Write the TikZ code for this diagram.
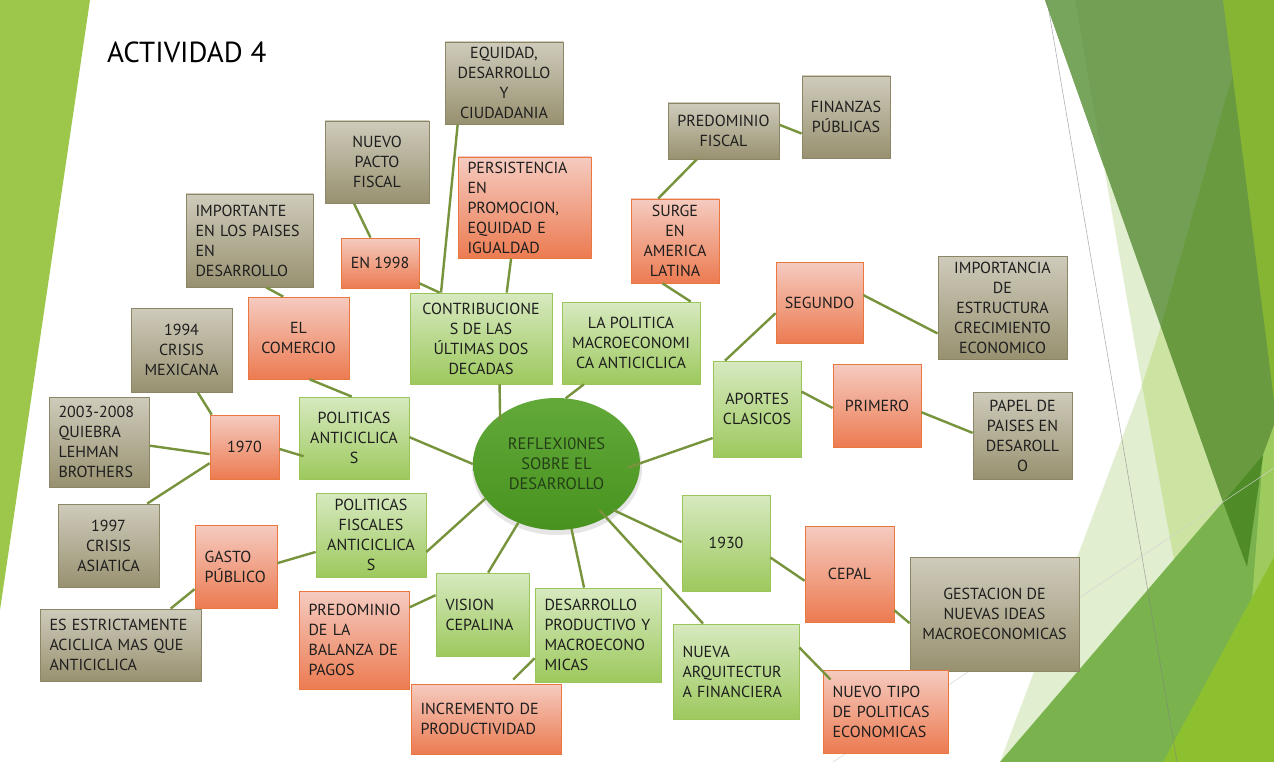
\documentclass[tikz,border=0pt]{standalone}
\usepackage{fontspec}
\setmainfont{PT Sans}
\usetikzlibrary{calc,shapes.geometric}
\definecolor{tanT}{HTML}{CFCBBB}
\definecolor{tanBot}{HTML}{989170}
\definecolor{tanB}{HTML}{8C8566}
\definecolor{salT}{HTML}{F5CBC0}
\definecolor{salBot}{HTML}{EC7B51}
\definecolor{salB}{HTML}{E9773F}
\definecolor{grnT}{HTML}{D7E9C0}
\definecolor{grnBot}{HTML}{9DC95D}
\definecolor{grnB}{HTML}{9BC45B}
\definecolor{lineC}{HTML}{77933C}
\definecolor{ellT}{HTML}{62A93A}
\definecolor{ellBot}{HTML}{48931F}
\definecolor{ellTxt}{HTML}{243F17}
\definecolor{leftG}{HTML}{9DC74B}
\definecolor{paleG}{HTML}{E2EED0}
\definecolor{lightG}{HTML}{CDE3A1}
\definecolor{medG}{HTML}{729F53}
\definecolor{medLG}{HTML}{78A55C}
\definecolor{darkG}{HTML}{6A9A40}
\definecolor{limeT}{HTML}{86B534}
\definecolor{botG}{HTML}{7AB24E}
\definecolor{wedgeG}{HTML}{9ECB5E}
\definecolor{darkT}{HTML}{4F8C27}
\definecolor{limeB}{HTML}{8DC02F}
\definecolor{txt}{HTML}{1E1E1E}
\newcommand\bxc[7]{\node[#2,minimum width=#5pt,minimum height=#6pt,align=center] (#1) at (#3,#4) {#7};}
\newcommand\bxl[8]{\node[#2,minimum width=#5pt,minimum height=#6pt,align=left,text width=#7pt] (#1) at (#3,#4) {#8};}
\begin{document}
\begin{tikzpicture}[x=1pt,y=-1pt,
  box/.style={draw, line width=0.8pt, inner sep=0pt, font=\fontsize{16}{20}\selectfont, text=txt},
  tanbox/.style={box, draw=tanB, top color=tanT, bottom color=tanBot},
  salbox/.style={box, draw=salB, top color=salT, bottom color=salBot},
  grnbox/.style={box, draw=grnB, top color=grnT, bottom color=grnBot},
  conn/.style={draw=lineC, line width=2.4pt},
]
\useasboundingbox (0,0) rectangle (1274,762);
\fill[white] (0,0) rectangle (1274,762);
% background shapes
\fill[leftG] (0,0) -- (90,0) -- (0,610) -- cycle;
\fill[paleG] (1104,167) -- (1142,385) -- (1000,762) -- (1274,762) -- (1274,167) -- cycle;
\fill[lightG] (1161,326) -- (1142,385) -- (1185,620) -- (1223,502) -- cycle;
\fill[medG] (1045,0) -- (1274,0) -- (1274,470) -- (1263,455) -- (1223,502) -- cycle;
\fill[medLG] (1045,0) -- (1075,0) -- (1104,167) -- cycle;
\fill[darkG] (1161,326) -- (1254,0) -- (1274,0) -- (1274,470) -- (1263,455) -- (1223,502) -- cycle;
\fill[limeT] (1223,0) -- (1274,0) -- (1274,400) -- cycle;
\fill[botG] (1000,762) -- (1223,502) -- (1263,455) -- (1274,445) -- (1274,762) -- cycle;
\fill[wedgeG] (1263,455) -- (1274,425) -- (1274,610) -- (1252,600) -- cycle;
\fill[darkT] (1223,502) -- (1263,455) -- (1247,567) -- cycle;
\fill[limeB] (1163,762) -- (1274,557) -- (1274,762) -- cycle;
\draw[gray, line width=0.6pt, opacity=0.6] (1047,0) -- (1177,762);
\draw[black!18, line width=0.6pt, opacity=0.8] (833,762) -- (1274,468);
% title
\node[anchor=base west, inner sep=0pt, font=\fontsize{29}{32}\selectfont] (title) at (107,63) {ACTIVIDAD 4};
% tan boxes
\bxc{equidad}{tanbox}{504}{83}{118}{82}{EQUIDAD,\\DESARROLLO\\Y\\CIUDADANIA}
\bxc{pacto}{tanbox}{377}{162}{104}{82}{NUEVO\\PACTO\\FISCAL}
\bxl{importante}{tanbox}{249.5}{240.5}{127}{93}{108}{IMPORTANTE\\EN~LOS~PAISES\\EN\\DESARROLLO}
\bxc{predfis}{tanbox}{723.5}{131}{111}{56}{PREDOMINIO\\FISCAL}
\bxc{finanzas}{tanbox}{846}{117}{88}{82}{FINANZAS\\PÚBLICAS}
\bxc{importancia}{tanbox}{1002.5}{307.5}{129}{103}{IMPORTANCIA\\DE\\ESTRUCTURA\\CRECIMIENTO\\ECONOMICO}
\bxc{papel}{tanbox}{1022.5}{435.5}{99}{87}{PAPEL DE\\PAISES EN\\DESAROLL\\O}
\bxc{n1994}{tanbox}{181.5}{350}{101}{84}{1994\\CRISIS\\MEXICANA}
\bxl{n2003}{tanbox}{99}{442}{100}{90}{81}{2003-2008\\QUIEBRA\\LEHMAN\\BROTHERS}
\bxc{n1997}{tanbox}{108.5}{545.5}{101}{83}{1997\\CRISIS\\ASIATICA}
\bxl{estrict}{tanbox}{120.5}{645}{161}{72}{142}{ES~ESTRICTAMENTE\\ACICLICA~MAS~QUE\\ANTICICLICA}
\bxc{gest}{tanbox}{994.5}{614}{169}{114}{GESTACION DE\\NUEVAS IDEAS\\MACROECONOMICAS}
% salmon boxes
\bxc{en98}{salbox}{380}{263}{78}{50}{EN 1998}
\bxl{persist}{salbox}{524.5}{207.5}{133}{101}{114}{PERSISTENCIA\\EN\\PROMOCION,\\EQUIDAD~E\\IGUALDAD}
\bxc{surge}{salbox}{675}{241}{88}{84}{SURGE\\EN\\AMERICA\\LATINA}
\bxc{segundo}{salbox}{819.5}{302.5}{87}{81}{SEGUNDO}
\bxc{comercio}{salbox}{298.5}{338}{101}{82}{EL\\COMERCIO}
\bxc{n1970}{salbox}{244.5}{447}{69}{64}{1970}
\bxl{gasto}{salbox}{236}{566.5}{82}{83}{63}{GASTO\\PÚBLICO}
\bxl{balanza}{salbox}{354}{640}{110}{98}{91}{PREDOMINIO\\DE~LA\\BALANZA~DE\\PAGOS}
\bxc{primero}{salbox}{877}{405.5}{88}{83}{PRIMERO}
\bxc{cepal}{salbox}{849.5}{574}{89}{96}{CEPAL}
\bxl{nuevotipo}{salbox}{885.5}{711.5}{125}{83}{106}{NUEVO~TIPO\\DE~POLITICAS\\ECONOMICAS}
\bxl{increm}{salbox}{486}{719}{150}{70}{131}{INCREMENTO~DE\\PRODUCTIVIDAD}
% green boxes
\bxc{contrib}{grnbox}{481}{338.5}{142}{91}{CONTRIBUCIONE\\S DE LAS\\ÚLTIMAS DOS\\DECADAS}
\bxc{lapol}{grnbox}{631}{343}{138}{82}{LA POLITICA\\MACROECONOMI\\CA ANTICICLICA}
\bxc{aportes}{grnbox}{757}{409}{88}{96}{APORTES\\CLASICOS}
\bxc{polant}{grnbox}{354}{438}{110}{82}{POLITICAS\\ANTICICLICA\\S}
\bxc{fiscales}{grnbox}{371}{535}{110}{84}{POLITICAS\\FISCALES\\ANTICICLICA\\S}
\bxl{vision}{grnbox}{482.5}{614.5}{93}{83}{74}{VISION\\CEPALINA}
\bxl{desprod}{grnbox}{598}{635}{126}{94}{107}{DESARROLLO\\PRODUCTIVO~Y\\MACROECONO\\MICAS}
\bxc{n1930}{grnbox}{726}{543}{88}{96}{1930}
\bxl{nuevaarq}{grnbox}{736}{671.5}{126}{95}{107}{NUEVA\\ARQUITECTUR\\A~FINANCIERA}
% central ellipse
\fill[black, opacity=0.10] (557,468) ellipse (85 and 67);
\node[ellipse, minimum width=167pt, minimum height=132pt, inner sep=0pt, top color=ellT, bottom color=ellBot, align=center, font=\fontsize{16.5}{20}\selectfont, text=ellTxt] (ell) at (556.5,464) {REFLEXI0NES\\SOBRE EL\\DESARROLLO};
% connectors
\draw[conn] ($(pacto.south west)!.28!(pacto.south east)$) -- ($(en98.north west)!.38!(en98.north east)$);
\draw[conn] ($(en98.north east)!.9!(en98.south east)$) -- ($(contrib.north west)!.21!(contrib.north east)$);
\draw[conn] ($(equidad.south west)!.11!(equidad.south east)$) -- ($(contrib.north west)!.22!(contrib.north east)$);
\draw[conn] ($(persist.south west)!.40!(persist.south east)$) -- ($(contrib.north west)!.68!(contrib.north east)$);
\draw[conn] ($(importante.south west)!.63!(importante.south east)$) -- ($(comercio.north west)!.35!(comercio.north east)$);
\draw[conn] ($(predfis.south west)!.26!(predfis.south east)$) -- ($(surge.north west)!.31!(surge.north east)$);
\draw[conn] ($(predfis.north east)!.39!(predfis.south east)$) -- ($(finanzas.north west)!.70!(finanzas.south west)$);
\draw[conn] ($(surge.south west)!.36!(surge.south east)$) -- ($(lapol.north west)!.93!(lapol.north east)$);
\draw[conn] ($(contrib.south west)!.63!(contrib.south east)$) -- ($(ell.center)!.93!(ell.143)$);
\draw[conn] ($(lapol.south west)!.16!(lapol.south east)$) -- (ell.82);
\draw[conn] ($(segundo.north west)!.63!(segundo.south west)$) -- ($(aportes.north west)!.14!(aportes.north east)$);
\draw[conn] ($(segundo.north east)!.41!(segundo.south east)$) -- ($(importancia.north west)!.75!(importancia.south west)$);
\draw[conn] ($(aportes.north east)!.32!(aportes.south east)$) -- ($(primero.north west)!.53!(primero.south west)$);
\draw[conn] ($(primero.north east)!.58!(primero.south east)$) -- ($(papel.north west)!.47!(papel.south west)$);
\draw[conn] ($(aportes.north west)!.80!(aportes.south west)$) -- ($(ell.center)!.85!(ell.-3)$);
\draw[conn] ($(ell.center)!.97!(ell.-39)$) -- ($(n1930.north west)!.49!(n1930.south west)$);
\draw[conn] ($(n1930.north east)!.65!(n1930.south east)$) -- ($(cepal.north west)!.57!(cepal.south west)$);
\draw[conn] ($(cepal.north east)!.875!(cepal.south east)$) -- ($(gest.north west)!.58!(gest.south west)$);
\draw[conn] ($(ell.center)!.87!(ell.-47)$) -- ($(nuevaarq.north west)!.24!(nuevaarq.north east)$);
\draw[conn] ($(nuevaarq.north east)!.25!(nuevaarq.south east)$) -- ($(nuevotipo.north west)+(8,10)$);
\draw[conn] (ell.-77) -- ($(desprod.north west)!.39!(desprod.north east)$);
\draw[conn] (ell.-123) -- ($(vision.north west)!.56!(vision.north east)$);
\draw[conn] ($(vision.north west)!.27!(vision.south west)$) -- ($(balanza.north east)!.17!(balanza.south east)$);
\draw[conn] ($(desprod.north west)!.745!(desprod.south west)$) -- ($(increm.north west)!.68!(increm.north east)+(0,-4)$);
\draw[conn] (ell.-154) -- ($(fiscales.north east)!.70!(fiscales.south east)$);
\draw[conn] ($(fiscales.north west)!.70!(fiscales.south west)$) -- ($(gasto.north east)!.46!(gasto.south east)$);
\draw[conn] ($(gasto.north west)!.77!(gasto.south west)$) -- ($(estrict.north west)!.81!(estrict.north east)$);
\draw[conn] (ell.180) -- ($(polant.north east)!.49!(polant.south east)$);
\draw[conn] ($(polant.north west)!.72!(polant.south west)+(5,0)$) -- ($(n1970.north east)!.53!(n1970.south east)$);
\draw[conn] ($(comercio.south west)!.61!(comercio.south east)$) -- ($(polant.north west)!.48!(polant.north east)$);
\draw[conn] ($(n1970.north west)!.03!(n1970.north east)$) -- ($(n1994.south west)!.66!(n1994.south east)$);
\draw[conn] ($(n1970.north west)!.61!(n1970.south west)$) -- ($(n2003.north east)!.54!(n2003.south east)$);
\draw[conn] ($(n1970.north west)!.75!(n1970.south west)$) -- ($(n1997.north west)!.88!(n1997.north east)$);
\end{tikzpicture}
\end{document}
